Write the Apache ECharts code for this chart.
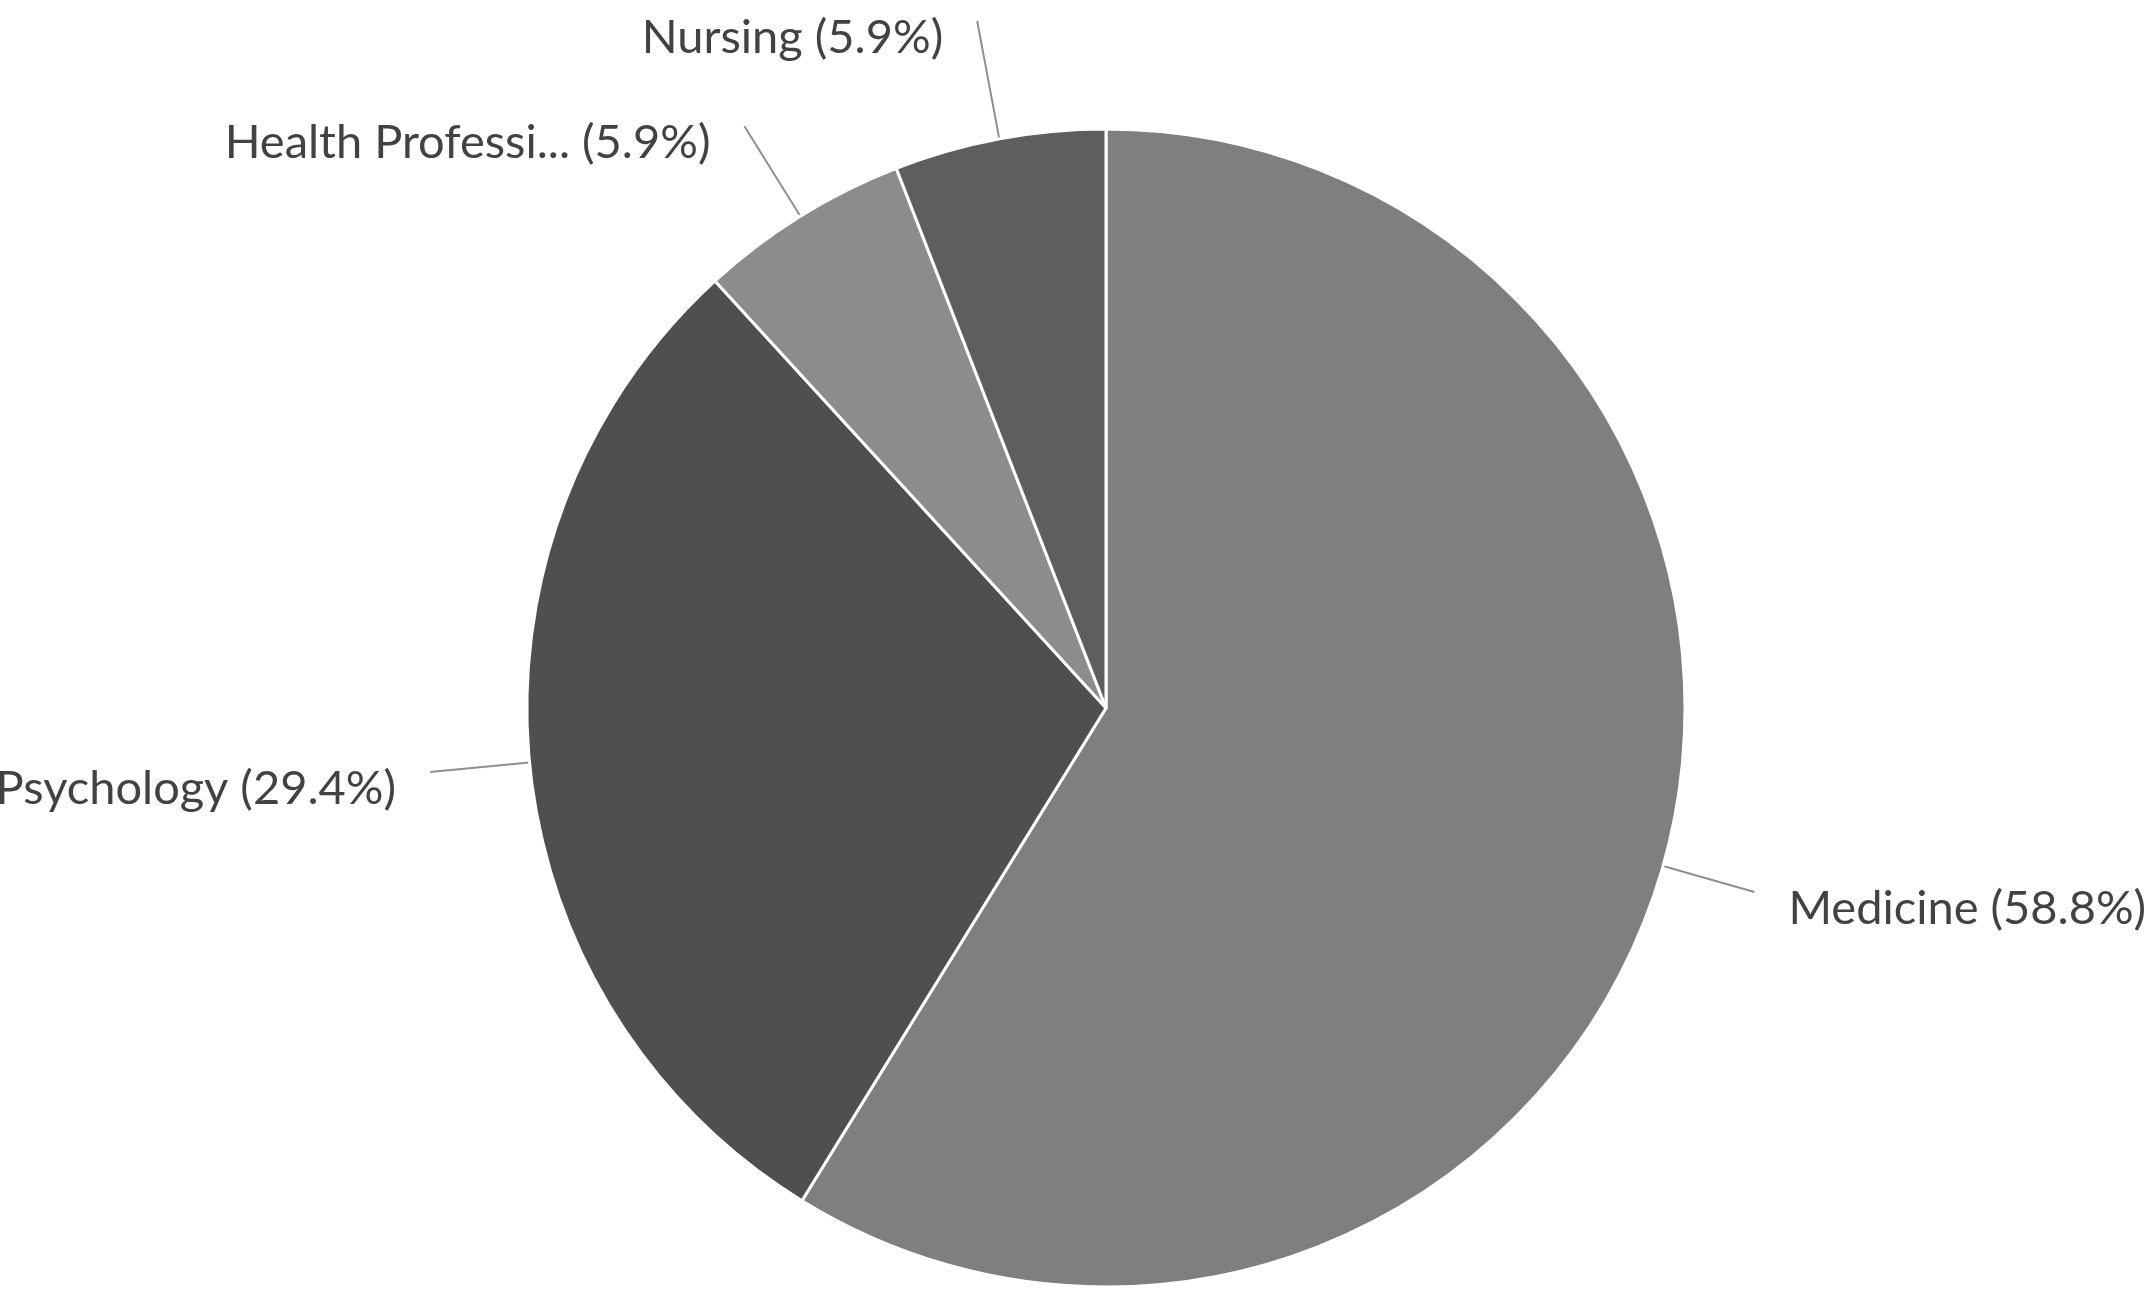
<!DOCTYPE html>
<html>
<head>
<meta charset="utf-8">
<script src="https://cdn.jsdelivr.net/npm/echarts@6/dist/echarts.min.js"></script>
<style>
html, body { margin: 0; padding: 0; background: #fff; }
#chart { width: 2152px; height: 1307px; }
</style>
</head>
<body>
<div id="chart"></div>
<script>
// slices, clockwise from 12 o'clock
var names = ["Medicine", "Psychology", "Health Professions", "Nursing"];
var shortNames = ["Medicine", "Psychology", "Health Professi...", "Nursing"];
var percents = [58.8, 29.4, 5.9, 5.9];
var colors = ["#7f7f7f", "#4f4f4f", "#8c8c8c", "#5e5e5e"];
var lineLen = [95, 100, 106, 120];

var data = [];
for (var i = 0; i < names.length; i++) {
    data.push({
        name: names[i],
        value: percents[i],
        itemStyle: { color: colors[i] },
        labelLine: { length: lineLen[i], length2: 0 }
    });
}

var myChart = echarts.init(document.getElementById('chart'));
var option = {
    animation: false,
    series: [{
        type: 'pie',
        center: [1106, 708],
        radius: 579,
        startAngle: 90,
        clockwise: true,
        avoidLabelOverlap: false,
        itemStyle: { borderColor: '#ffffff', borderWidth: 3 },
        label: {
            show: true,
            position: 'outside',
            fontFamily: 'Lato',
            fontSize: 47,
            color: '#424242',
            distanceToLabelLine: 34,
            // empty first line pushes the text a bit below the line end
            formatter: function (p) {
                return '{s| }\n{t|' + shortNames[p.dataIndex] + ' (' + p.value.toFixed(1) + '%)}';
            },
            rich: {
                s: { fontSize: 10, lineHeight: 34 },
                t: { fontFamily: 'Lato', fontSize: 47, color: '#424242', lineHeight: 56 }
            }
        },
        labelLine: {
            show: true,
            smooth: false,
            lineStyle: { color: '#8f8f8f', width: 2 }
        },
        data: data
    }]
};
myChart.setOption(option);
</script>
</body>
</html>
